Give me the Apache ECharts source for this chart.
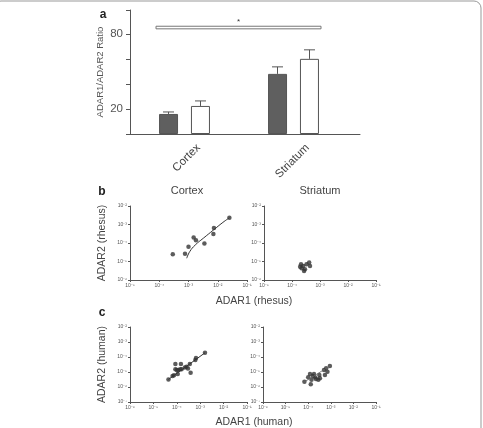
<!DOCTYPE html>
<html>
<head>
<meta charset="utf-8">
<style>
  * { margin: 0; padding: 0; }
  #container { width: 483px; height: 428px; background: #fff; }
</style>
</head>
<body>
<div id="container"></div>
<script src="https://cdn.jsdelivr.net/npm/echarts@6/dist/echarts.min.js"></script>
<script>
// panel a: ADAR1/ADAR2 ratio
var regions = ['Cortex', 'Striatum'];
var ratioDark = [16, 48];
var ratioDarkErr = [1.6, 5.6];
var ratioLight = [22.4, 60];
var ratioLightErr = [4, 7.2];
var ratioTicks = [20, 80];

// panel b: rhesus, [ADAR1, ADAR2]
var rhesusCortex = [
  [2.9e-4, 2.5e-5], [7.6e-4, 2.6e-5], [1.0e-3, 6.3e-5], [1.5e-3, 2.0e-4],
  [1.8e-3, 1.4e-4], [3.5e-3, 9.5e-5], [7.1e-3, 3.1e-4], [7.4e-3, 6.5e-4],
  [2.5e-2, 2.3e-3]
];
var rhesusCortexFit = [
  [8.7e-4, 1.5e-5], [1.1e-3, 3.4e-5], [1.7e-3, 7.8e-5], [3.2e-3, 1.8e-4],
  [7.1e-3, 5.0e-4], [1.5e-2, 1.3e-3], [2.5e-2, 2.3e-3]
];
var rhesusStriatum = [
  [1.95e-4, 5.2e-6], [2.2e-4, 4.3e-6], [2.5e-4, 5.8e-6], [2.9e-4, 3.8e-6],
  [3.3e-4, 7.2e-6], [4.1e-4, 8.7e-6], [4.4e-4, 5.8e-6], [2.7e-4, 3.1e-6],
  [2.1e-4, 7.2e-6]
];

// panel c: human, [ADAR1, ADAR2]
var humanCortex = [
  [4.4e-5, 3.2e-6], [6.6e-5, 5.4e-6], [7.6e-5, 6.0e-6], [8.7e-5, 1.5e-5],
  [1.0e-4, 1.35e-5], [1.1e-4, 7.4e-6], [1.15e-4, 1.35e-5], [1.4e-4, 1.5e-5],
  [8.7e-5, 3.4e-5], [1.5e-4, 3.4e-5], [1.6e-4, 1.5e-5], [2.2e-4, 2.0e-5],
  [2.6e-4, 2.2e-5], [3.0e-4, 1.7e-5], [3.6e-4, 3.4e-5], [3.9e-4, 8.9e-6],
  [6.2e-4, 6.3e-5], [6.6e-4, 8.5e-5], [1.6e-3, 1.9e-4]
];
var humanCortexFit = [[4.4e-5, 3.2e-6], [1.6e-3, 1.9e-4]];
var humanStriatum = [
  [6.8e-5, 2.2e-6], [1.0e-4, 4.5e-6], [1.2e-4, 7.4e-6], [1.3e-4, 1.5e-6],
  [1.4e-4, 3.0e-6], [1.6e-4, 5.4e-6], [1.8e-4, 7.4e-6], [2.0e-4, 4.5e-6],
  [2.2e-4, 3.4e-6], [2.8e-4, 3.0e-6], [3.3e-4, 3.8e-6], [3.1e-4, 6.3e-6],
  [5.0e-4, 1.35e-5], [5.5e-4, 6.3e-6], [6.2e-4, 1.8e-5], [7.1e-4, 1.05e-5],
  [9.1e-4, 2.5e-5]
];
var humanStriatumFit = [[6.8e-5, 2.2e-6], [9.1e-4, 2.5e-5]];

var dom = document.getElementById('container');
var myChart = echarts.init(dom);

var SUP = {'-': '\u207b', '0': '\u2070', '1': '\u00b9', '2': '\u00b2', '3': '\u00b3',
  '4': '\u2074', '5': '\u2075', '6': '\u2076', '7': '\u2077', '8': '\u2078', '9': '\u2079'};
function powLabel(v) {
  var e = String(Math.round(Math.log(v) / Math.LN10));
  return '10' + e.split('').map(function (c) { return SUP[c]; }).join('');
}

var axisGrey = '#555';
var textGrey = '#444';
var font = 'Liberation Sans, Arial, sans-serif';

function logAxis(grid, min, max, name) {
  var ax = {
    type: 'log', logBase: 10, gridIndex: grid, min: min, max: max,
    axisLine: {show: true, lineStyle: {color: axisGrey, width: 1}},
    axisTick: {show: true, length: 2, lineStyle: {color: axisGrey}},
    axisLabel: {fontSize: 5, color: axisGrey, margin: 3, fontFamily: font,
      formatter: powLabel, showMinLabel: true, showMaxLabel: true},
    splitLine: {show: false}
  };
  if (name) {
    ax.name = name;
    ax.nameLocation = 'middle';
    ax.nameRotate = 90;
    ax.nameGap = 22;
    ax.nameTextStyle = {fontSize: 10.5, color: textGrey, fontFamily: font};
  }
  return ax;
}

function hidden(type, grid) {
  return {type: type, gridIndex: grid, show: false, min: 0, max: 1};
}

// error bar: line up from the bar top with a cap
function errorBars(offset) {
  return function (params, api) {
    var top = api.coord([api.value(0), api.value(1) + api.value(2)]);
    var base = api.coord([api.value(0), api.value(1)]);
    var x = top[0] + offset;
    var style = {stroke: axisGrey, lineWidth: 1, fill: null};
    return {
      type: 'group',
      children: [
        {type: 'line', shape: {x1: x, y1: base[1], x2: x, y2: top[1]}, style: style},
        {type: 'line', shape: {x1: x - 5.5, y1: top[1], x2: x + 5.5, y2: top[1]}, style: style}
      ]
    };
  };
}

var option = {
  animation: false,
  backgroundColor: '#fff',
  grid: [
    {left: 130, top: 10, width: 218, height: 124, outerBoundsMode: 'none'},
    {left: 130, top: 10, width: 230, height: 124, outerBoundsMode: 'none'},
    {left: 144, top: 10, width: 218, height: 124, outerBoundsMode: 'none'},
    {left: 130, top: 206, width: 117, height: 74, outerBoundsMode: 'none'},
    {left: 264, top: 206, width: 112, height: 74, outerBoundsMode: 'none'},
    {left: 130, top: 327, width: 117, height: 75, outerBoundsMode: 'none'},
    {left: 263, top: 327, width: 113, height: 75, outerBoundsMode: 'none'}
  ],
  xAxis: [
    {type: 'category', gridIndex: 0, data: regions,
      axisLine: {show: false}, axisTick: {show: false}, axisLabel: {show: false}},
    {type: 'value', gridIndex: 1, min: 0, max: 1,
      axisLine: {show: true, lineStyle: {color: axisGrey}},
      axisTick: {show: false}, axisLabel: {show: false}, splitLine: {show: false}},
    {type: 'category', gridIndex: 2, data: regions,
      axisLine: {show: false}, axisTick: {show: false},
      axisLabel: {rotate: 45, margin: 12, fontSize: 11.5, color: textGrey, fontFamily: font}},
    logAxis(3, 1e-5, 1e-1),
    logAxis(4, 1e-5, 1e-1),
    logAxis(5, 1e-6, 1e-1),
    logAxis(6, 1e-6, 1e-1)
  ],
  yAxis: [
    {type: 'value', gridIndex: 0, min: 0, max: 99, interval: 20,
      name: 'ADAR1/ADAR2 Ratio', nameLocation: 'middle', nameRotate: 90, nameGap: 25,
      nameTextStyle: {fontSize: 9.5, color: axisGrey, fontFamily: font},
      axisLine: {show: true, lineStyle: {color: axisGrey}},
      axisTick: {show: true, length: 4, lineStyle: {color: axisGrey}},
      axisLabel: {fontSize: 11.5, color: axisGrey, margin: 7, fontFamily: font,
        formatter: function (v) { return ratioTicks.indexOf(v) >= 0 ? String(v) : ''; }},
      splitLine: {show: false}},
    hidden('value', 1),
    hidden('value', 2),
    logAxis(3, 1e-6, 1e-2, 'ADAR2 (rhesus)'),
    logAxis(4, 1e-6, 1e-2),
    logAxis(5, 1e-7, 1e-2, 'ADAR2 (human)'),
    logAxis(6, 1e-7, 1e-2)
  ],
  graphic: [
    {type: 'rect', shape: {x: -6, y: 1, width: 487, height: 460, r: 7},
      style: {fill: null, stroke: '#999', lineWidth: 1}, silent: true},
    {type: 'text', x: 103, y: 15, style: {text: 'a', font: 'bold 12px ' + font, fill: '#222', textAlign: 'center', textVerticalAlign: 'middle'}},
    {type: 'text', x: 102, y: 192, style: {text: 'b', font: 'bold 12px ' + font, fill: '#222', textAlign: 'center', textVerticalAlign: 'middle'}},
    {type: 'text', x: 102, y: 313, style: {text: 'c', font: 'bold 12px ' + font, fill: '#222', textAlign: 'center', textVerticalAlign: 'middle'}},
    {type: 'text', x: 187, y: 191, style: {text: 'Cortex', font: '11px ' + font, fill: textGrey, textAlign: 'center', textVerticalAlign: 'middle'}},
    {type: 'text', x: 320, y: 191, style: {text: 'Striatum', font: '11px ' + font, fill: textGrey, textAlign: 'center', textVerticalAlign: 'middle'}},
    {type: 'text', x: 254, y: 301, style: {text: 'ADAR1 (rhesus)', font: '10.5px ' + font, fill: textGrey, textAlign: 'center', textVerticalAlign: 'middle'}},
    {type: 'text', x: 254, y: 422, style: {text: 'ADAR1 (human)', font: '10.5px ' + font, fill: textGrey, textAlign: 'center', textVerticalAlign: 'middle'}}
  ],
  series: [
    {type: 'bar', xAxisIndex: 0, yAxisIndex: 0, data: ratioDark, barWidth: 19, barGap: '68%',
      itemStyle: {color: '#5f5f5f', borderColor: '#555', borderWidth: 1}, silent: true},
    {type: 'bar', xAxisIndex: 0, yAxisIndex: 0, data: ratioLight, barWidth: 19,
      itemStyle: {color: '#fff', borderColor: '#555', borderWidth: 1}, silent: true},
    {type: 'custom', xAxisIndex: 0, yAxisIndex: 0, renderItem: errorBars(-16), silent: true,
      data: regions.map(function (r, i) { return [i, ratioDark[i], ratioDarkErr[i]]; })},
    {type: 'custom', xAxisIndex: 0, yAxisIndex: 0, renderItem: errorBars(16), silent: true,
      data: regions.map(function (r, i) { return [i, ratioLight[i], ratioLightErr[i]]; })},
    // significance bracket across both regions
    {type: 'custom', xAxisIndex: 0, yAxisIndex: 0, silent: true, data: [[0, 1, 85]],
      renderItem: function (params, api) {
        var p0 = api.coord([api.value(0), api.value(2)]);
        var p1 = api.coord([api.value(1), api.value(2)]);
        var x0 = p0[0] - 28.5, x1 = p1[0] + 27.5;
        return {
          type: 'group',
          children: [
            {type: 'rect', shape: {x: x0, y: p0[1] - 1.3, width: x1 - x0, height: 2.6},
              style: {fill: '#fff', stroke: '#777', lineWidth: 1}},
            {type: 'text', x: (x0 + x1) / 2, y: p0[1] - 6,
              style: {text: '*', font: '8px ' + font, fill: '#333', textAlign: 'center', textVerticalAlign: 'middle'}}
          ]
        };
      }},
    {type: 'line', xAxisIndex: 3, yAxisIndex: 3, data: rhesusCortexFit, smooth: true, symbol: 'none',
      lineStyle: {color: '#333', width: 1}, silent: true},
    {type: 'scatter', xAxisIndex: 3, yAxisIndex: 3, data: rhesusCortex, symbolSize: 4.5,
      itemStyle: {color: '#333'}, silent: true},
    {type: 'scatter', xAxisIndex: 4, yAxisIndex: 4, data: rhesusStriatum, symbolSize: 4.5,
      itemStyle: {color: '#333'}, silent: true},
    {type: 'line', xAxisIndex: 5, yAxisIndex: 5, data: humanCortexFit, symbol: 'none',
      lineStyle: {color: '#333', width: 1}, silent: true},
    {type: 'scatter', xAxisIndex: 5, yAxisIndex: 5, data: humanCortex, symbolSize: 4.5,
      itemStyle: {color: '#333'}, silent: true},
    {type: 'line', xAxisIndex: 6, yAxisIndex: 6, data: humanStriatumFit, symbol: 'none',
      lineStyle: {color: '#666', width: 0.8}, silent: true},
    {type: 'scatter', xAxisIndex: 6, yAxisIndex: 6, data: humanStriatum, symbolSize: 4.5,
      itemStyle: {color: '#333'}, silent: true}
  ]
};

if (option && typeof option === 'object') {
  myChart.setOption(option);
}
</script>
</body>
</html>
